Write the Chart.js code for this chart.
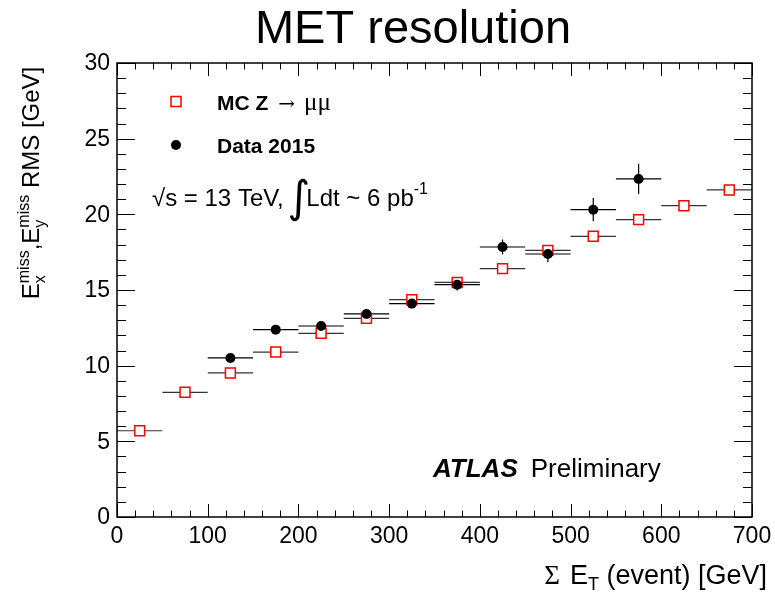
<!DOCTYPE html>
<html>
<head>
<meta charset="utf-8">
<script src="https://cdn.jsdelivr.net/npm/chart.js@4/dist/chart.umd.min.js"></script>
<style>
  body { margin: 0; background: #fff; }
  #chart { display: block; }
</style>
</head>
<body>
<canvas id="chart" width="775" height="594"></canvas>
<script>
// bin centres [GeV] and half bin width
const mcBins = [25, 75, 125, 175, 225, 275, 325, 375, 425, 475, 525, 575, 625, 675];
const mcValues = [5.70, 8.24, 9.52, 10.90, 12.14, 13.13, 14.36, 15.50, 16.41, 17.62, 18.55, 19.65, 20.57, 21.61];
const dataBins = [125, 175, 225, 275, 325, 375, 425, 475, 525, 575];
const dataValues = [10.51, 12.38, 12.62, 13.42, 14.10, 15.35, 17.84, 17.38, 20.31, 22.34];
const dataErrors = [0.20, 0.25, 0.30, 0.25, 0.30, 0.38, 0.50, 0.55, 0.77, 1.00];
const binHalfWidth = 25;

const xTicks = [0, 100, 200, 300, 400, 500, 600, 700];
const yTicks = [0, 5, 10, 15, 20, 25, 30];

const SANS = '"Liberation Sans", Arial, Helvetica, sans-serif';
const SERIF = '"Liberation Serif", "Times New Roman", serif';

// draw a run of text pieces; a piece with keep:true does not advance the pen
function richWidth(ctx, parts) {
  let w = 0, held = 0;
  parts.forEach(p => {
    ctx.font = p.font;
    const pw = ctx.measureText(p.text).width + (p.dx || 0);
    if (p.keep) { held = pw; return; }
    w += Math.max(pw, held);
    held = 0;
  });
  return w;
}

function drawRich(ctx, parts, x, y) {
  let pen = x, held = 0;
  ctx.textAlign = 'left';
  ctx.textBaseline = 'alphabetic';
  parts.forEach(p => {
    ctx.font = p.font;
    ctx.fillText(p.text, pen + (p.dx || 0), y + (p.dy || 0));
    const pw = ctx.measureText(p.text).width + (p.dx || 0);
    if (p.keep) { held = pw; return; }
    pen += Math.max(pw, held);
    held = 0;
  });
}

const errorBars = {
  id: 'errorBars',
  beforeDatasetsDraw(chart) {
    const { ctx, scales: { x, y } } = chart;
    ctx.save();
    ctx.lineWidth = 1.2;
    ctx.strokeStyle = '#333';
    mcBins.forEach((b, i) => {
      const py = y.getPixelForValue(mcValues[i]);
      ctx.beginPath();
      ctx.moveTo(x.getPixelForValue(b - binHalfWidth), py);
      ctx.lineTo(x.getPixelForValue(b + binHalfWidth), py);
      ctx.stroke();
    });
    ctx.strokeStyle = '#000';
    dataBins.forEach((b, i) => {
      const px = x.getPixelForValue(b);
      const py = y.getPixelForValue(dataValues[i]);
      ctx.beginPath();
      ctx.moveTo(x.getPixelForValue(b - binHalfWidth), py);
      ctx.lineTo(x.getPixelForValue(b + binHalfWidth), py);
      ctx.moveTo(px, y.getPixelForValue(dataValues[i] - dataErrors[i]));
      ctx.lineTo(px, y.getPixelForValue(dataValues[i] + dataErrors[i]));
      ctx.stroke();
    });
    ctx.restore();
  }
};

const rootAxes = {
  id: 'rootAxes',
  afterDraw(chart) {
    const { ctx, chartArea: a, scales: { x, y } } = chart;
    ctx.save();
    ctx.fillStyle = '#000';
    ctx.strokeStyle = '#000';

    // ticks, inside on all four sides
    ctx.lineWidth = 1;
    ctx.beginPath();
    for (let v = x.min; v <= x.max; v += 20) {
      const px = Math.round(x.getPixelForValue(v)) + 0.5;
      const len = v % 100 === 0 ? 13 : 6.5;
      ctx.moveTo(px, a.bottom); ctx.lineTo(px, a.bottom - len);
      ctx.moveTo(px, a.top); ctx.lineTo(px, a.top + len);
    }
    for (let v = y.min; v <= y.max; v += 1) {
      const py = Math.round(y.getPixelForValue(v)) + 0.5;
      const len = v % 5 === 0 ? 18 : 9;
      ctx.moveTo(a.left, py); ctx.lineTo(a.left + len, py);
      ctx.moveTo(a.right, py); ctx.lineTo(a.right - len, py);
    }
    ctx.stroke();

    ctx.lineWidth = 1.5;
    ctx.strokeRect(a.left, a.top, a.right - a.left, a.bottom - a.top);

    // tick labels
    ctx.font = '23px ' + SANS;
    ctx.textAlign = 'center';
    ctx.textBaseline = 'alphabetic';
    xTicks.forEach(v => ctx.fillText(String(v), x.getPixelForValue(v), a.bottom + 26));
    ctx.textAlign = 'right';
    ctx.textBaseline = 'middle';
    yTicks.forEach(v => ctx.fillText(String(v), a.left - 7, y.getPixelForValue(v) + 1));

    // title
    ctx.font = '47px ' + SANS;
    ctx.textAlign = 'center';
    ctx.textBaseline = 'alphabetic';
    ctx.fillText('MET resolution', 413, 43);

    // x axis title
    const xt = [
      { text: 'Σ', font: '27px ' + SERIF },
      { text: 'E', font: '27px ' + SANS, dx: 10 },
      { text: 'T', font: '18px ' + SANS, dy: 6 },
      { text: ' (event) [GeV]', font: '27px ' + SANS }
    ];
    drawRich(ctx, xt, 767 - richWidth(ctx, xt), 584);

    // y axis title, rotated
    const yt = [
      { text: 'E', font: '24px ' + SANS },
      { text: 'x', font: '16px ' + SANS, dy: 6, keep: true },
      { text: 'miss', font: '16px ' + SANS, dy: -10 },
      { text: ',', font: '24px ' + SANS },
      { text: 'E', font: '24px ' + SANS },
      { text: 'y', font: '16px ' + SANS, dy: 6, keep: true },
      { text: 'miss', font: '16px ' + SANS, dy: -10 },
      { text: ' RMS [GeV]', font: '24px ' + SANS }
    ];
    ctx.save();
    ctx.translate(39, 183);
    ctx.rotate(-Math.PI / 2);
    drawRich(ctx, yt, -richWidth(ctx, yt) / 2, 0);
    ctx.restore();

    // legend
    ctx.lineWidth = 1.5;
    ctx.strokeStyle = '#ff0000';
    ctx.fillStyle = '#fff';
    ctx.fillRect(171, 96.5, 10, 10);
    ctx.strokeRect(171, 96.5, 10, 10);
    ctx.fillStyle = '#000';
    ctx.beginPath();
    ctx.arc(176, 145, 5, 0, Math.PI * 2);
    ctx.fill();
    drawRich(ctx, [
      { text: 'MC Z', font: 'bold 21px ' + SANS },
      { text: '→', font: '20px "DejaVu Serif", ' + SERIF, dx: 10 },
      { text: 'μμ', font: '25px ' + SERIF, dx: 9 }
    ], 217, 110);
    drawRich(ctx, [{ text: 'Data 2015', font: 'bold 21px ' + SANS }], 217, 153);

    drawRich(ctx, [
      { text: '√s = 13 TeV, ', font: '24px ' + SANS },
      { text: '∫', font: '44px "DejaVu Sans", ' + SANS, dx: -3, dy: 6 },
      { text: 'Ldt ~ 6 pb', font: '24px ' + SANS, dx: -4 },
      { text: '-1', font: '16px ' + SANS, dy: -12 }
    ], 152, 206);

    drawRich(ctx, [
      { text: 'ATLAS', font: 'italic bold 26px ' + SANS },
      { text: 'Preliminary', font: '26px ' + SANS, dx: 13 }
    ], 433, 477);

    ctx.restore();
  }
};

new Chart(document.getElementById('chart'), {
  type: 'scatter',
  data: {
    datasets: [
      {
        label: 'Data 2015',
        data: dataBins.map((b, i) => ({ x: b, y: dataValues[i] })),
        pointStyle: 'circle',
        pointRadius: 5,
        backgroundColor: '#000',
        borderColor: '#000',
        borderWidth: 0
      },
      {
        label: 'MC Z → μμ',
        data: mcBins.map((b, i) => ({ x: b, y: mcValues[i] })),
        pointStyle: 'rect',
        pointRadius: 7,
        backgroundColor: '#fff',
        borderColor: '#ff0000',
        borderWidth: 1.5
      }
    ]
  },
  options: {
    responsive: false,
    animation: false,
    events: [],
    layout: { padding: { left: 117, right: 23, top: 63, bottom: 77 } },
    scales: {
      x: { type: 'linear', min: 0, max: 700, display: false },
      y: { type: 'linear', min: 0, max: 30, display: false }
    },
    plugins: {
      legend: { display: false },
      tooltip: { enabled: false }
    }
  },
  plugins: [errorBars, rootAxes]
});
</script>
</body>
</html>
